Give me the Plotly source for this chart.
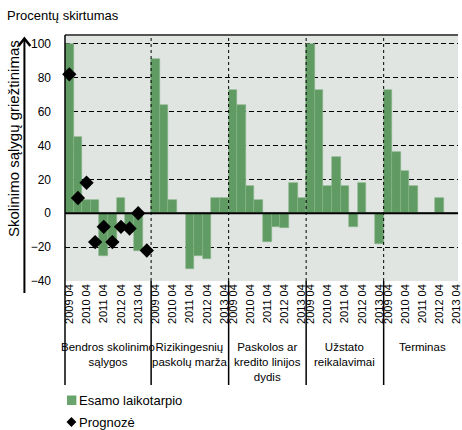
import plotly.graph_objects as go

# Survey periods (semi-annual) and the five credit-standard factors
periods = ["2009 04", "2009 10", "2010 04", "2010 10", "2011 04",
           "2011 10", "2012 04", "2012 10", "2013 04"]
forecast_periods = periods + ["2013 10"]
groups = ["Bendros skolinimo<br>sąlygos", "Rizikingesnių<br>paskolų marža",
          "Paskolos ar<br>kredito linijos<br>dydis", "Užstato<br>reikalavimai",
          "Terminas"]

# Net percentage of banks tightening (current period)
general_terms = [100, 45, 8, 8, -25, -17, 9, -8, -22]
riskier_margin = [91, 64, 8, 0, -33, -25, -27, 9, 9]
loan_size = [73, 64, 16, 8, -17, -8, -9, 18, 9]
collateral = [100, 73, 16, 33, 16, -8, 18, 0, -18]
maturity = [73, 36, 25, 16, 0, 0, 9, 0, 0]
actual_series = [general_terms, riskier_margin, loan_size, collateral, maturity]

# Expectations for general terms (one period further ahead)
general_forecast = [82, 9, 18, -17, -8, -17, -8, -9, 0, -22]

y_ticks = [-40, -20, 0, 20, 40, 60, 80, 100]

GREEN = "#5f9b62"
ARIAL = "Liberation Sans, Arial"

# Canvas geometry
W, H = 462, 430
L, T, B = 65, 35, 149
PW, PH = W - L, H - T - B
SLOT = 8.7  # pixel width of one period


def px_x(x):
    return (x - L) / PW


def px_y(y):
    return (H - B - y) / PH


# Slot layout: first group carries one extra slot for the forecast
group_sizes = [len(forecast_periods)] + [len(periods)] * 4
starts = []
pos = 0
for n in group_sizes:
    starts.append(pos)
    pos += n

bar_x, bar_y, bar_text = [], [], []
tick_vals, tick_text = [], []
for g, vals in enumerate(actual_series):
    for i, v in enumerate(vals):
        bar_x.append(starts[g] + i)
        bar_y.append(v)
        bar_text.append(periods[i])
    for i in range(0, len(periods), 2):
        tick_vals.append(starts[g] + i)
        tick_text.append(periods[i])

fc_x = [starts[0] + i for i in range(len(general_forecast))]

fig = go.Figure()
fig.add_trace(go.Bar(
    x=bar_x, y=bar_y, name="Esamo laikotarpio",
    marker=dict(color=GREEN, line=dict(color="#86b588", width=0.6)),
    hovertext=bar_text, showlegend=False,
))
fig.add_trace(go.Scatter(
    x=fc_x, y=general_forecast, name="Prognozė", mode="markers",
    marker=dict(symbol="diamond", size=11, color="black"),
    showlegend=False, cliponaxis=False,
))

x_max = -0.5 + PW / SLOT

shapes = []
# zero line above bars
shapes.append(dict(type="line", xref="paper", yref="y", x0=0, x1=1, y0=0, y1=0,
                   line=dict(color="black", width=2), layer="above"))
# top frame
shapes.append(dict(type="line", xref="paper", yref="paper", x0=0, x1=1, y0=1, y1=1,
                   line=dict(color="#555555", width=2), layer="above"))
# left frame, extended through the category table
shapes.append(dict(type="line", xref="paper", yref="paper", x0=0, x1=0,
                   y0=1, y1=px_y(385), line=dict(color="black", width=1.5),
                   layer="above"))
for g in range(1, len(starts)):
    bx = starts[g] / (x_max + 0.5)
    # dotted divider inside the plot
    shapes.append(dict(type="line", xref="paper", yref="paper", x0=bx, x1=bx,
                       y0=0, y1=1, line=dict(color="black", width=1, dash="dot"),
                       layer="above"))
    # solid divider in the category table
    shapes.append(dict(type="line", xref="paper", yref="paper", x0=bx, x1=bx,
                       y0=0, y1=px_y(385), line=dict(color="black", width=1.5)))

# vertical value axis with arrow
ax_x = px_x(24)
shapes.append(dict(type="line", xref="paper", yref="paper", x0=ax_x, x1=ax_x,
                   y0=px_y(293), y1=px_y(39), line=dict(color="black", width=2)))
shapes.append(dict(type="path", xref="paper", yref="paper",
                   path="M {},{} L {},{} L {},{}".format(
                       px_x(18), px_y(46), px_x(24), px_y(38.5), px_x(30), px_y(46)),
                   line=dict(color="black", width=2.5)))

# legend marks
shapes.append(dict(type="rect", xref="paper", yref="paper",
                   x0=px_x(67), x1=px_x(76.5), y0=px_y(395.5), y1=px_y(405),
                   fillcolor="#6aa46d", line=dict(width=0)))
shapes.append(dict(type="path", xref="paper", yref="paper",
                   path="M {},{} L {},{} L {},{} L {},{} Z".format(
                       px_x(66.5), px_y(422), px_x(71.5), px_y(417),
                       px_x(76.5), px_y(422), px_x(71.5), px_y(427)),
                   fillcolor="black", line=dict(width=0)))

annotations = [
    dict(text="Procentų skirtumas", xref="paper", yref="paper",
         x=px_x(4), y=px_y(15), xanchor="left", yanchor="middle",
         showarrow=False, font=dict(family=ARIAL, size=13, color="black")),
    dict(text="Skolinimo sąlygų griežtinimas", xref="paper", yref="paper",
         x=px_x(13), y=px_y(138.5), xanchor="center", yanchor="middle",
         textangle=-90, showarrow=False,
         font=dict(family=ARIAL, size=15, color="black")),
    dict(text="Esamo laikotarpio", xref="paper", yref="paper",
         x=px_x(77), y=px_y(400), xanchor="left", yanchor="middle",
         showarrow=False, font=dict(family=ARIAL, size=13, color="black")),
    dict(text="Prognozė", xref="paper", yref="paper",
         x=px_x(77), y=px_y(422), xanchor="left", yanchor="middle",
         showarrow=False, font=dict(family=ARIAL, size=13, color="black")),
]
for g, name in enumerate(groups):
    center = starts[g] + (group_sizes[g] - 1) / 2
    annotations.append(dict(text=name, xref="x", yref="paper", x=center,
                            y=px_y(339), xanchor="center", yanchor="top",
                            showarrow=False, align="center",
                            font=dict(family=ARIAL, size=11.5, color="black")))

fig.update_layout(
    width=W, height=H,
    margin=dict(l=L, r=0, t=T, b=B, pad=0),
    paper_bgcolor="white", plot_bgcolor="#e1e5e2",
    bargap=0, showlegend=False,
    shapes=shapes, annotations=annotations,
    xaxis=dict(range=[-0.5, x_max], tickvals=tick_vals, ticktext=tick_text,
               tickangle=-90, showgrid=False, zeroline=False, showline=False,
               ticks="", ticklen=0, ticklabeloverflow="allow",
               tickfont=dict(family=ARIAL, size=11, color="black")),
    yaxis=dict(range=[-40, 105.2], tickvals=y_ticks, showgrid=True,
               gridcolor="black", gridwidth=1.3, griddash="5px,3px",
               zeroline=False, showline=False, ticks="",
               ticklabelstandoff=13,
               tickfont=dict(family=ARIAL, size=12, color="black")),
)

fig.write_html("out.html")
